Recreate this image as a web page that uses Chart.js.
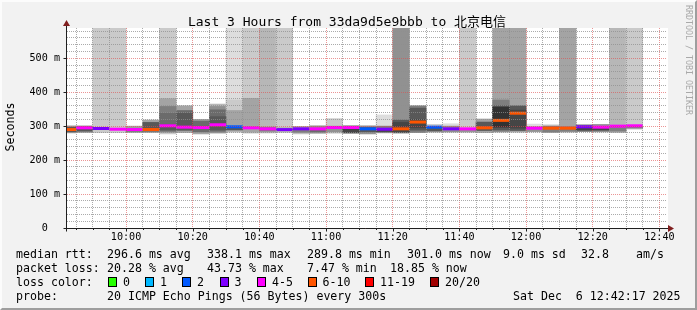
<!DOCTYPE html>
<html>
<head>
<meta charset="utf-8">
<script src="https://cdn.jsdelivr.net/npm/chart.js@4/dist/chart.umd.min.js"></script>
<style>
  body { margin: 0; background: #f2f2f2; }
  #wrap { position: relative; width: 697px; height: 310px; overflow: hidden;
          font-family: "DejaVu Sans Mono", "Noto Sans CJK SC", monospace; color: #000; }
  #chart { position: absolute; left: 0; top: 0; }
  .frame { position: absolute; left: 0; top: 0; width: 697px; height: 310px; box-sizing: border-box;
           border-top: 2px solid #fcfcfc; border-left: 2px solid #fcfcfc;
           border-right: 2px solid #9e9e9e; border-bottom: 2px solid #9e9e9e; pointer-events: none; }
  .txt { position: absolute; white-space: pre; font-size: 11.6px; line-height: 14px; }
  .title { position: absolute; left: 0; width: 694px; top: 14px; text-align: center; font-size: 13px; line-height: 16px; white-space: pre; }
  .unit { position: absolute; left: -30px; top: 120px; width: 80px; text-align: center; font-size: 11.6px; line-height: 14px;
          transform: rotate(-90deg); }
  .mark { position: absolute; left: 684px; top: 5px; writing-mode: vertical-rl; font-size: 8.3px; line-height: 9px; color: #a9a9a9; white-space: pre; }
  .sw { position: absolute; width: 9px; height: 10px; box-sizing: border-box; border: 1px solid #000; }
</style>
</head>
<body>
<div id="wrap">
  <canvas id="chart" width="697" height="310"></canvas>
  <div class="title">Last 3 Hours from 33da9d5e9bbb to 北京电信</div>
  <div class="unit">Seconds</div>
  <div class="mark">RRDTOOL / TOBI OETIKER</div>
  <div id="legend"></div>
  <div class="frame"></div>
</div>
<script>
// 5 minute steps, start of each step
const times = ['09:40', '09:45', '09:50', '09:55', '10:00', '10:05', '10:10', '10:15', '10:20', '10:25',
               '10:30', '10:35', '10:40', '10:45', '10:50', '10:55', '11:00', '11:05', '11:10', '11:15',
               '11:20', '11:25', '11:30', '11:35', '11:40', '11:45', '11:50', '11:55', '12:00', '12:05',
               '12:10', '12:15', '12:20', '12:25', '12:30'];

// median rtt in ms
const median = [290, 295, 293, 291, 290, 290, 301, 297, 296, 304,
                298, 295, 292, 289.8, 292, 292, 296, 296, 292, 291,
                292, 312, 297, 292, 292, 295, 317, 338.1, 294, 294,
                294, 298, 297, 300, 301];

// lost pings out of 20
const lost = [6, 4, 3, 4, 4, 6, 4, 4, 5, 4,
              2, 4, 4, 3, 3, 4, 4, 5, 2, 3,
              6, 7, 2, 3, 4, 6, 9, 8, 4, 6,
              6, 3, 4, 4, 4];

// smoke: ping ranges [low, high] in ms, outer ring first.
// OFF = ping slower than the graph limit, rrdtool draws it to the top
const OFF = 9999;
const ring1 = [[280, 301], [281, 301], [281, OFF], [281, OFF], [281, 300],
               [281, 318], [277, OFF], [281, 360], [277, 320], [279, 365],
               [281, OFF], [279, OFF], [280, OFF], [281, OFF], [277, 299],
               [279, 301], [279, 322], [279, 301], [277, 301], [279, 333],
               [279, OFF], [281, 360], [281, 305], [281, 307], [281, OFF],
               [281, 321], [282, OFF], [282, OFF], [282, 306], [281, 304],
               [282, OFF], [284, 304], [283, 305], [281, OFF], [291, OFF]];
const ring2 = [[283, 297], [285, 298], null, null, [284, 294],
               [285, 311], [281, 381], [287, 346], [283, 315], [281, 358],
               [283, 377], [282, 382], [285, 297], [285, 295], [280, 299],
               [283, 292], [283, 300], [281, 293], [283, 296], [281, 300],
               [281, 318], [288, 353], [285, 294], [283, 300], [284, 290],
               [287, 312], [285, 377], [287, 360], [284, 298], [282, 300],
               [285, 298], [288, 296], [288, 296], [285, 298], [294, 300]];
const ring3 = [null, null, null, null, null,
               null, [284, 358], [290, 338], null, [285, 348],
               [285, 346], null, null, null, [282, 292],
               null, null, null, null, [284, 292],
               [283, 311], [295, 320], null, null, null,
               null, [289, 360], [294, 347], null, null,
               null, null, null, null, null];
const ring4 = [null, null, null, null, null, null, [287, 338], null, null, [289, 328],
               [289, 298], null, null, null, null, null, null, null, null, null,
               null, null, null, null, null, null, [297, 356], null, null, null,
               null, null, null, null, null];
const ring5 = [null, null, null, null, null, null, [289, 304], null, null, null,
               null, null, null, null, null, null, null, null, null, null,
               null, null, null, null, null, null, null, null, null, null,
               null, null, null, null, null];

// smokeping ping pair index (1 = fastest/slowest pair ... 10 = middle) of each ring
const ring1Pair = [4, 4, 2, 2, 4, 4, 2, 4, 4, 3, 1, 2, 3, 2, 2, 5, 2, 7, 5, 1,
                   5, 6, 2, 1, 2, 4, 4, 4, 1, 2, 4, 6, 5, 3, 2];
const ring2Pair = [8, 8, null, null, 6, 8, 4, 7, 7, 5, 2, 4, 6, 4, 4, 7, 5, 9, 8, 6,
                   8, 8, 8, 5, 5, 8, 6, 8, 5, 6, 6, 9, 9, 6, 6];
const ring3Pair = [null, null, null, null, null, null, 6, 8, null, 7, 4, null, null, null, 6,
                   null, null, null, null, 9, 9, 9, null, null, null, null, 8, 9, null, null,
                   null, null, null, null, null];
const ring4Pair = [null, null, null, null, null, null, 7, null, null, 8, 8, null, null, null, null,
                   null, null, null, null, null, null, null, null, null, null, null, 10, null, null, null,
                   null, null, null, null, null];
const ring5Pair = [null, null, null, null, null, null, 8, null, null, null, null, null, null, null, null,
                   null, null, null, null, null, null, null, null, null, null, null, null, null, null, null,
                   null, null, null, null, null];

const xTickLabels = ['10:00', '10:20', '10:40', '11:00', '11:20', '11:40', '12:00', '12:20', '12:40'];
const yTickLabels = ['0', '100 m', '200 m', '300 m', '400 m', '500 m'];

const lossLabels = ['0', '1', '2', '3', '4-5', '6-10', '11-19', '20/20'];
const lossColors = ['#26ff00', '#00b8ff', '#0059ff', '#7e00ff', '#ff00ff', '#ff5500', '#ff0000', '#a10000'];

const rttStats = ['296.6 ms avg', '338.1 ms max', '289.8 ms min', '301.0 ms now', '9.0 ms sd', '32.8', 'am/s'];
const lossStats = ['20.28 % avg', '43.73 % max', '7.47 % min', '18.85 % now'];
const probeText = '20 ICMP Echo Pings (56 Bytes) every 300s';
const stampText = 'Sat Dec  6 12:42:17 2025';

// ---------------------------------------------------------------

const toMin = s => { const p = s.split(':'); return +p[0] * 60 + +p[1]; };
const fmt = v => String(Math.floor(v / 60)).padStart(2, '0') + ':' + String(Math.round(v % 60)).padStart(2, '0');
const STEP = 5;
const END = toMin('12:42') + 17 / 60;
const START = END - 180;

function shade(pair) {
  const v = Math.floor(190 / 10 * (10 - pair)) + 50;
  return 'rgb(' + v + ',' + v + ',' + v + ')';
}

function lossColor(n) {
  if (n <= 3) return lossColors[n];
  if (n <= 5) return lossColors[4];
  if (n <= 10) return lossColors[5];
  if (n < 20) return lossColors[6];
  return lossColors[7];
}

const rings = [[ring1, ring1Pair], [ring2, ring2Pair], [ring3, ring3Pair], [ring4, ring4Pair], [ring5, ring5Pair]];

const datasets = rings.map(([ring, pair], r) => ({
  type: 'bar',
  data: times.map((t, i) => ({ x: toMin(t) + STEP / 2, y: ring[i] })),
  backgroundColor: ctx => pair[ctx.dataIndex] ? shade(pair[ctx.dataIndex]) : 'transparent',
  grouped: false,
  barPercentage: 1,
  categoryPercentage: 1,
  borderWidth: 0,
  order: 10 - r
}));

const medianPoints = [];
times.forEach((t, i) => {
  const s = toMin(t);
  medianPoints.push({ x: s, y: median[i] }, { x: s + STEP, y: median[i] }, { x: s + STEP, y: null });
});

datasets.push({
  type: 'line',
  data: medianPoints,
  borderWidth: 3,
  borderColor: lossColors[4],
  borderCapStyle: 'butt',
  pointRadius: 0,
  tension: 0,
  spanGaps: false,
  segment: { borderColor: ctx => lossColor(lost[Math.floor(ctx.p0DataIndex / 3)]) },
  order: 0
});

const gridMinutes = [];
for (let m = Math.ceil(START / STEP) * STEP; m <= END; m += STEP) gridMinutes.push(m);

const MINOR = 'rgba(143,143,143,0.75)';
const MAJOR = 'rgba(222,79,79,0.6)';
const tickFont = { family: 'DejaVu Sans Mono', size: 10.15 };

const rrdPlugin = {
  id: 'rrd',
  beforeDraw(chart) {
    const { ctx, chartArea: a } = chart;
    ctx.save();
    ctx.fillStyle = '#ffffff';
    ctx.fillRect(a.left, a.top, a.right - a.left + 1, a.bottom - a.top);
    ctx.restore();
  },
  afterDraw(chart) {
    const { ctx, chartArea: a } = chart;
    const xs = chart.scales.x, ys = chart.scales.y;
    const y0 = Math.round(ys.getPixelForValue(0)) + 0.5;
    const x0 = Math.round(a.left) - 0.5;
    ctx.save();
    ctx.strokeStyle = '#1f1f1f';
    ctx.lineWidth = 1;
    ctx.beginPath();
    ctx.moveTo(x0 - 3, y0); ctx.lineTo(a.right + 1, y0);
    ctx.moveTo(x0, y0 + 3); ctx.lineTo(x0, a.top - 2);
    ys.ticks.forEach(t => {
      if (t.value % 100 === 0 && t.value > 0) {
        const p = Math.round(ys.getPixelForValue(t.value)) + 0.5;
        ctx.moveTo(x0 - 3, p); ctx.lineTo(x0, p);
      }
    });
    xs.ticks.forEach(t => {
      const p = Math.round(xs.getPixelForValue(t.value)) + 0.5;
      ctx.moveTo(p, y0); ctx.lineTo(p, y0 + (t.value % 20 === 0 ? 3 : 1.5));
    });
    ctx.stroke();
    ctx.fillStyle = 'rgb(128,31,31)';
    ctx.beginPath();
    ctx.moveTo(a.right + 7, y0); ctx.lineTo(a.right + 1, y0 - 3.5); ctx.lineTo(a.right + 1, y0 + 3.5);
    ctx.closePath(); ctx.fill();
    ctx.beginPath();
    ctx.moveTo(x0, a.top - 8); ctx.lineTo(x0 - 3.5, a.top - 2); ctx.lineTo(x0 + 3.5, a.top - 2);
    ctx.closePath(); ctx.fill();
    ctx.restore();
  }
};

new Chart(document.getElementById('chart'), {
  type: 'bar',
  data: { datasets: datasets },
  options: {
    responsive: false,
    animation: false,
    devicePixelRatio: 1,
    layout: { padding: { left: 10, top: 28, right: 30, bottom: 62 } },
    plugins: { legend: { display: false }, tooltip: { enabled: false } },
    scales: {
      x: {
        type: 'linear',
        min: START,
        max: END,
        offset: false,
        afterFit: s => { s.height = 20; },
        afterBuildTicks: s => { s.ticks = gridMinutes.map(v => ({ value: v })); },
        grid: { z: 1, drawTicks: false, offset: false, color: c => (c.tick && c.tick.value % 20 === 0) ? MAJOR : MINOR },
        border: { display: false, dash: [1, 1] },
        ticks: {
          autoSkip: false, maxRotation: 0, minRotation: 0, padding: 3, color: '#000', font: tickFont,
          callback: v => xTickLabels.includes(fmt(v)) ? fmt(v) : ''
        }
      },
      y: {
        min: 0,
        max: 589,
        afterFit: s => { s.width = 57; },
        grid: { z: 1, drawTicks: false, color: c => (c.tick && c.tick.value % 100 === 0) ? MAJOR : MINOR },
        border: { display: false, dash: [1, 1] },
        ticks: {
          stepSize: 20, autoSkip: false, includeBounds: false, padding: 7, color: '#000', font: tickFont,
          callback: v => v % 100 === 0 ? (v === 0 ? yTickLabels[0].padEnd(3) : yTickLabels[v / 100]) : ''
        }
      }
    }
  },
  plugins: [rrdPlugin]
});

// legend lines below the graph
const legend = document.getElementById('legend');
function put(text, x, top) {
  const d = document.createElement('div');
  d.className = 'txt';
  d.style.left = x + 'px';
  d.style.top = top + 'px';
  d.textContent = text;
  legend.appendChild(d);
}
put('median rtt:', 16, 247);
[107, 207, 307, 407, 503, 581, 636].forEach((x, i) => put(rttStats[i], x, 247));
put('packet loss:', 16, 261);
[107, 207, 307, 390].forEach((x, i) => put(lossStats[i], x, 261));
put('loss color:', 16, 275);
[108, 145, 182, 219.5, 257, 307.5, 365, 430].forEach((x, i) => {
  const s = document.createElement('div');
  s.className = 'sw';
  s.style.left = x + 'px';
  s.style.top = '277px';
  s.style.background = lossColors[i];
  legend.appendChild(s);
  put(lossLabels[i], x + 15, 275);
});
put('probe:', 16, 289);
put(probeText, 107, 289);
put(stampText, 513, 289);
</script>
</body>
</html>
